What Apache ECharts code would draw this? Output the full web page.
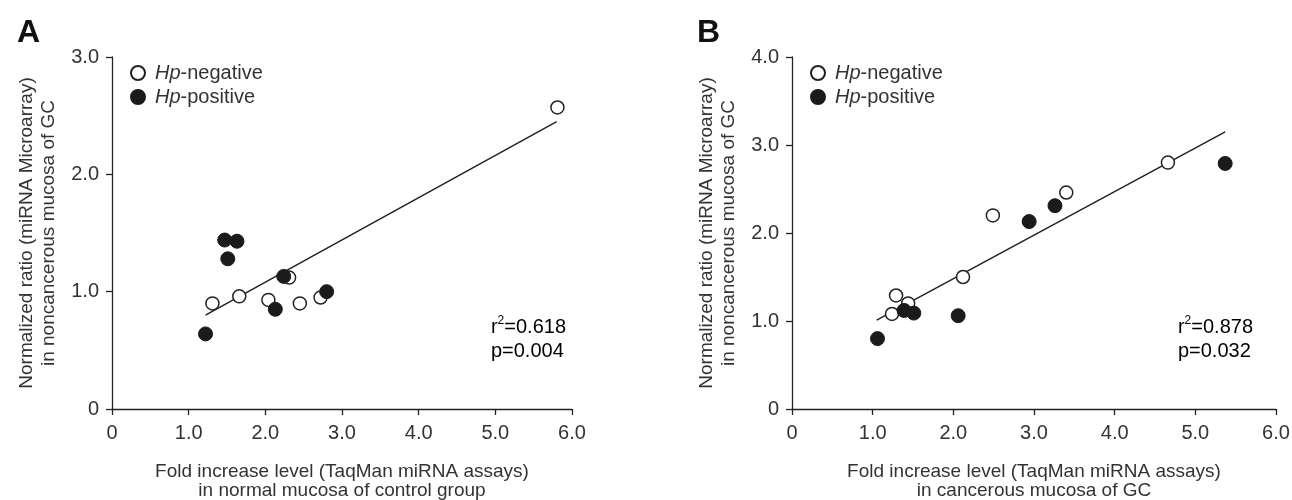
<!DOCTYPE html>
<html>
<head>
<meta charset="utf-8">
<script src="https://cdn.jsdelivr.net/npm/echarts@6/dist/echarts.min.js"></script>
<style>
  html, body { margin: 0; padding: 0; background: #fff; }
  #chart { width: 1292px; height: 500px; }
</style>
</head>
<body>
<div id="chart"></div>
<script>
// panel A: normal mucosa of control group
var negA = [[1.31, 0.90], [1.66, 0.96], [2.04, 0.93], [2.31, 1.12], [2.45, 0.90], [2.72, 0.95], [5.81, 2.57]];
var posA = [[1.47, 1.44], [1.63, 1.43], [1.51, 1.28], [2.24, 1.13], [2.80, 1.00], [2.13, 0.85], [1.22, 0.64]];
var fitA = [[1.22, 0.80], [5.80, 2.45]];
// panel B: cancerous mucosa of GC
var negB = [[4.66, 2.80], [3.40, 2.46], [2.49, 2.20], [2.12, 1.50], [1.29, 1.29], [1.44, 1.20], [1.24, 1.08]];
var posB = [[5.37, 2.79], [3.26, 2.31], [2.94, 2.13], [1.39, 1.12], [1.51, 1.09], [2.06, 1.06], [1.06, 0.80]];
var fitB = [[1.05, 1.01], [5.37, 3.15]];

var statsA = ['0.618', '0.004'];
var statsB = ['0.878', '0.032'];
var xNames = ['Fold increase level (TaqMan miRNA assays)\nin normal mucosa of control group',
              'Fold increase level (TaqMan miRNA assays)\nin cancerous mucosa of GC'];
var yName = 'Normalized ratio (miRNA Microarray)\nin noncancerous mucosa of GC';
var yMax = [3, 4];

var font = 'Liberation Sans, Arial, sans-serif';
var ink = '#222';
var txt = '#333';

function tickFmt(v) { return v === 0 ? '0' : v.toFixed(1); }

function xAxis(i) {
  return {
    type: 'value', gridIndex: i, min: 0, max: 6, interval: 1,
    name: xNames[i], nameLocation: 'middle', nameGap: 53,
    nameTextStyle: { fontFamily: font, fontSize: 19, color: txt, lineHeight: 19 },
    axisLine: { onZero: false, lineStyle: { color: ink, width: 1.3 } },
    axisTick: { length: 6, lineStyle: { color: ink, width: 1.3 } },
    axisLabel: { formatter: tickFmt, fontFamily: font, fontSize: 20, color: txt, margin: 14 },
    splitLine: { show: false }
  };
}
function yAxis(i) {
  return {
    type: 'value', gridIndex: i, min: 0, max: yMax[i], interval: 1,
    name: yName, nameLocation: 'middle', nameGap: 52,
    nameTextStyle: { fontFamily: font, fontSize: 19, color: txt, lineHeight: 22 },
    axisLine: { show: true, onZero: false, lineStyle: { color: ink, width: 1.3 } },
    axisTick: { show: true, length: 6, lineStyle: { color: ink, width: 1.3 } },
    axisLabel: { formatter: tickFmt, fontFamily: font, fontSize: 20, color: txt, margin: 13 },
    splitLine: { show: false }
  };
}
function legend(left) {
  return {
    orient: 'vertical', left: left, top: 58, itemWidth: 14, itemHeight: 14, itemGap: 4,
    data: ['Hp-negative', 'Hp-positive'],
    formatter: function (n) { return '{i|Hp}' + n.slice(2); },
    textStyle: {
      fontFamily: font, fontSize: 20, color: txt, padding: [0, 0, 0, 5],
      rich: { i: { fontFamily: font, fontSize: 20, fontStyle: 'italic', color: txt } }
    }
  };
}
function negSeries(i, data) {
  return { name: 'Hp-negative', type: 'scatter', xAxisIndex: i, yAxisIndex: i, data: data,
    symbolSize: 13, z: 3,
    itemStyle: { color: '#fff', borderColor: ink, borderWidth: 1.5, opacity: 1 } };
}
function posSeries(i, data) {
  return { name: 'Hp-positive', type: 'scatter', xAxisIndex: i, yAxisIndex: i, data: data,
    symbolSize: 14, z: 4,
    itemStyle: { color: '#1b1b1b', borderColor: '#1b1b1b', borderWidth: 1, opacity: 1 } };
}
function fitSeries(i, data) {
  return { type: 'line', xAxisIndex: i, yAxisIndex: i, data: data, symbol: 'none', silent: true, z: 2,
    lineStyle: { color: ink, width: 1.5 } };
}
function stats(right, s) {
  return {
    type: 'text', right: right, top: 315,
    style: {
      text: '{n|r}{s|2}{n|=' + s[0] + '}\n{n|p=' + s[1] + '}',
      align: 'right',
      rich: {
        n: { fontFamily: font, fontSize: 20, color: txt, lineHeight: 24 },
        s: { fontFamily: font, fontSize: 12, color: txt, lineHeight: 24, padding: [0, 0, 12, 0] }
      }
    }
  };
}

var myChart = echarts.init(document.getElementById('chart'));
var option = {
  backgroundColor: '#fff',
  animation: false,
  title: [
    { text: 'A', left: 12, top: 12, textStyle: { fontFamily: font, fontSize: 32, fontWeight: 'bold', color: '#111' } },
    { text: 'B', left: 692, top: 12, textStyle: { fontFamily: font, fontSize: 32, fontWeight: 'bold', color: '#111' } }
  ],
  grid: [
    { left: 112, top: 57, width: 460, height: 352, outerBoundsMode: 'none' },
    { left: 792, top: 57, width: 484, height: 352, outerBoundsMode: 'none' }
  ],
  legend: [legend(125), legend(805)],
  xAxis: [xAxis(0), xAxis(1)],
  yAxis: [yAxis(0), yAxis(1)],
  series: [
    fitSeries(0, fitA), negSeries(0, negA), posSeries(0, posA),
    fitSeries(1, fitB), negSeries(1, negB), posSeries(1, posB)
  ],
  graphic: [stats(726, statsA), stats(39, statsB)]
};
option && myChart.setOption(option);
window.addEventListener('resize', function () { myChart.resize(); });
</script>
</body>
</html>
